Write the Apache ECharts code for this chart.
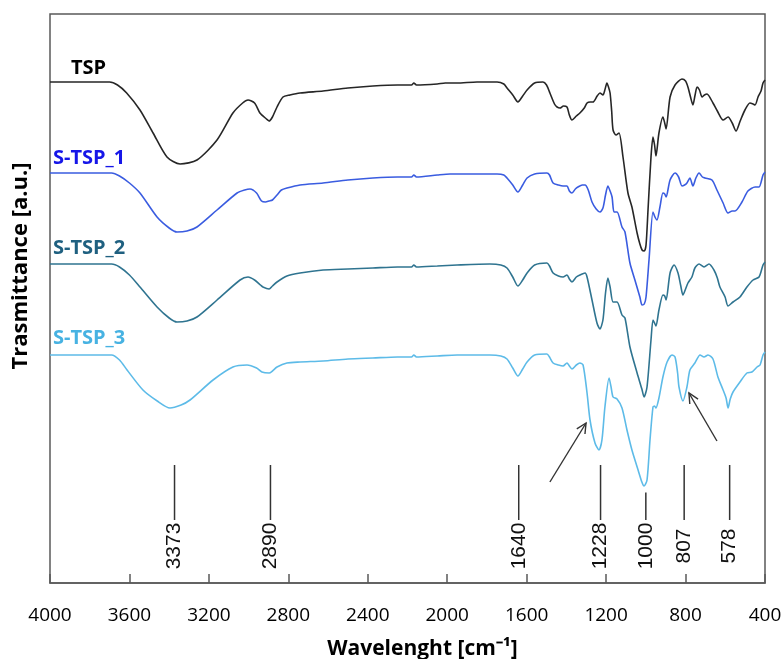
<!DOCTYPE html>
<html>
<head>
<meta charset="utf-8">
<script src="https://cdn.jsdelivr.net/npm/echarts@6/dist/echarts.min.js"></script>
<style>
  html, body { margin: 0; padding: 0; background: #fff; }
  #chart { width: 783px; height: 659px; }
</style>
</head>
<body>
<div id="chart"></div>
<script>
// FTIR spectra, [wavenumber cm-1, transmittance a.u. (vertically offset)]
const tsp = [[4000,50.1],[3850,50.1],[3700,50.1],[3660,49.8],[3614,49.0],[3547,47.3],[3481,45.0],[3411,42.6],[3345,41.9],[3260,42.3],[3159,44.3],[3079,47.0],[3030,48.0],[3003,48.3],[2970,48.0],[2943,47.0],[2910,46.4],[2897,46.2],[2880,46.6],[2857,47.6],[2827,48.6],[2792,48.8],[2741,49.0],[2625,49.2],[2500,49.5],[2374,49.7],[2250,49.8],[2180,49.8],[2168,50.0],[2155,49.8],[2050,49.9],[2010,50.0],[1951,50.0],[1850,50.1],[1749,50.1],[1715,49.9],[1699,49.5],[1670,48.8],[1644,48.1],[1620,48.7],[1598,49.3],[1560,50.0],[1518,50.1],[1500,49.8],[1483,49.0],[1460,47.9],[1447,47.6],[1432,47.5],[1415,47.7],[1397,47.6],[1385,46.8],[1372,46.3],[1350,46.7],[1332,47.0],[1310,47.5],[1296,48.0],[1280,48.1],[1266,48.1],[1245,48.7],[1231,49.0],[1216,48.8],[1205,49.4],[1196,50.0],[1188,49.6],[1180,49.0],[1172,47.2],[1165,45.3],[1150,44.8],[1135,45.0],[1115,42.6],[1090,39.0],[1070,37.6],[1044,35.0],[1030,33.9],[1019,33.3],[1008,33.2],[999,33.8],[989,37.3],[974,42.6],[964,44.6],[956,43.8],[949,42.7],[934,45.0],[914,46.6],[905,46.0],[898,45.4],[878,48.6],[853,49.8],[818,50.4],[800,50.2],[788,49.6],[775,48.6],[763,47.8],[752,48.8],[742,49.6],[730,49.3],[717,48.6],[705,48.8],[692,48.9],[662,48.0],[640,47.2],[611,46.3],[586,46.6],[565,46.0],[546,45.2],[525,46.2],[501,47.3],[476,48.0],[460,47.9],[450,47.8],[435,48.6],[420,49.2],[410,50.0],[400,50.3]];

const stsp1 = [[4000,41.0],[3850,41.0],[3690,41.0],[3650,40.7],[3600,40.0],[3547,39.0],[3461,36.6],[3400,35.5],[3361,35.1],[3310,35.2],[3260,35.6],[3159,37.3],[3058,39.0],[3020,39.3],[2993,39.4],[2960,39.0],[2935,38.2],[2915,38.1],[2897,38.2],[2880,38.3],[2857,38.8],[2835,39.3],[2807,39.5],[2741,39.8],[2625,40.0],[2500,40.3],[2374,40.5],[2250,40.6],[2180,40.6],[2168,40.8],[2155,40.6],[2050,40.8],[1986,40.9],[1850,40.9],[1749,40.9],[1715,40.8],[1699,40.5],[1670,39.8],[1644,39.1],[1620,39.8],[1598,40.5],[1560,40.9],[1498,41.0],[1485,40.8],[1467,40.0],[1440,39.8],[1417,39.7],[1397,39.7],[1385,39.2],[1372,39.0],[1355,39.4],[1342,39.6],[1320,39.8],[1306,39.8],[1290,39.3],[1271,38.1],[1250,37.4],[1231,37.1],[1216,37.5],[1203,38.8],[1191,39.7],[1180,39.2],[1170,38.6],[1160,37.1],[1145,37.1],[1120,35.6],[1105,35.1],[1080,32.0],[1055,30.3],[1030,28.6],[1019,27.8],[1008,27.9],[999,28.6],[984,32.3],[964,37.1],[954,36.6],[944,36.3],[929,37.6],[914,39.0],[905,38.9],[898,38.6],[878,40.3],[853,41.0],[835,40.6],[818,39.7],[805,39.8],[793,40.0],[778,40.5],[763,39.7],[748,40.5],[732,41.0],[715,40.6],[702,40.5],[667,40.3],[642,39.3],[611,38.0],[586,37.0],[565,37.2],[551,37.2],[516,38.1],[486,39.2],[450,39.6],[430,39.6],[410,40.8],[400,41.1]];

const stsp2 = [[4000,31.9],[3850,31.9],[3690,31.9],[3650,31.6],[3600,30.8],[3547,29.6],[3461,27.6],[3400,26.5],[3361,26.1],[3310,26.2],[3260,26.6],[3159,28.3],[3043,30.3],[3003,30.6],[2970,30.3],[2940,29.8],[2928,29.6],[2897,29.4],[2880,29.7],[2857,30.1],[2807,30.7],[2741,31.0],[2625,31.3],[2500,31.4],[2374,31.5],[2250,31.6],[2180,31.6],[2168,31.8],[2155,31.6],[2050,31.7],[1950,31.8],[1785,31.9],[1730,31.8],[1699,31.5],[1670,30.6],[1644,29.7],[1620,30.3],[1598,31.0],[1560,31.8],[1498,32.0],[1485,31.7],[1467,31.0],[1440,30.7],[1417,30.6],[1397,30.8],[1385,30.4],[1372,30.1],[1350,30.6],[1332,30.8],[1306,31.0],[1296,30.6],[1271,28.3],[1246,26.0],[1231,25.4],[1216,26.3],[1203,29.0],[1191,30.5],[1180,29.6],[1165,28.1],[1145,28.1],[1120,26.8],[1105,26.5],[1080,23.6],[1044,21.0],[1020,19.4],[1009,18.6],[994,19.6],[974,24.3],[964,26.3],[956,26.0],[949,25.7],[934,27.3],[914,28.8],[905,28.7],[898,28.3],[878,31.0],[858,31.8],[838,31.0],[825,29.8],[813,28.8],[800,29.4],[788,30.0],[768,30.6],[753,31.5],[732,31.9],[707,31.6],[682,31.9],[657,31.3],[640,30.5],[627,29.6],[601,28.6],[586,27.7],[561,28.1],[526,28.6],[491,29.6],[460,30.3],[430,30.6],[410,31.8],[400,32.1]];

const stsp3 = [[4000,22.8],[3850,22.8],[3690,22.8],[3650,22.3],[3612,21.3],[3532,19.3],[3460,18.2],[3396,17.5],[3340,17.8],[3295,18.3],[3179,20.3],[3079,21.6],[3008,21.8],[2960,21.5],[2933,21.1],[2897,21.0],[2880,21.2],[2857,21.6],[2807,22.0],[2741,22.1],[2625,22.2],[2500,22.4],[2374,22.5],[2250,22.6],[2180,22.6],[2168,22.8],[2155,22.6],[2050,22.7],[1950,22.8],[1785,22.8],[1730,22.7],[1699,22.4],[1670,21.5],[1644,20.7],[1620,21.4],[1598,22.1],[1560,22.8],[1498,22.9],[1485,22.6],[1467,22.0],[1440,21.8],[1417,21.7],[1397,22.0],[1385,21.7],[1372,21.4],[1350,21.8],[1332,22.0],[1316,21.8],[1296,19.0],[1281,16.3],[1256,14.0],[1236,13.3],[1221,14.3],[1206,17.6],[1185,20.5],[1175,19.6],[1165,18.6],[1145,18.4],[1120,17.5],[1095,15.3],[1070,13.3],[1039,11.3],[1020,10.1],[1009,9.7],[994,10.3],[979,14.3],[964,17.6],[956,17.7],[949,17.5],[934,18.5],[914,20.6],[893,22.1],[868,22.8],[853,22.6],[840,21.0],[833,19.6],[813,18.2],[793,19.6],[778,21.3],[753,22.0],[727,22.8],[707,22.6],[687,22.8],[662,22.4],[637,20.6],[611,19.3],[596,18.5],[586,17.5],[575,18.4],[561,19.1],[526,20.1],[491,21.0],[466,21.1],[440,21.6],[425,21.8],[410,22.8],[400,23.1]];

// Band positions marked under the spectra (cm-1)
const bandPeaks = [3373, 2890, 1640, 1228, 1000, 807, 578];

// Arrows: [from wavenumber, from value, to wavenumber, to value]
const arrows = [[1483, 10.1, 1301, 16.0], [642, 14.2, 783, 19.0]];

const xTicks = [4000, 3600, 3200, 2800, 2400, 2000, 1600, 1200, 800, 400];

const seriesNames = ['TSP', 'S-TSP_1', 'S-TSP_2', 'S-TSP_3'];

const lineColors = ['#262626', '#3a5ce0', '#2f7490', '#5dbbe8'];
const nameColors = ['#000000', '#1616e8', '#1f6080', '#47b2e2'];

// Linear interpolation on a spectrum sorted by decreasing wavenumber
function valueAt(spec, wn) {
  for (let i = 0; i < spec.length - 1; i++) {
    const a = spec[i], b = spec[i + 1];
    if (wn <= a[0] && wn >= b[0]) {
      const t = (a[0] - wn) / (a[0] - b[0]);
      return a[1] + t * (b[1] - a[1]);
    }
  }
  return spec[spec.length - 1][1];
}

const LINE_TOP = 11.8, LINE_BOTTOM = 6.3, LABEL_CENTER = 3.7;

const chart = echarts.init(document.getElementById('chart'), null, { renderer: 'canvas' });

const spectra = [tsp, stsp1, stsp2, stsp3];

const option = {
  animation: false,
  backgroundColor: '#ffffff',
  grid: {
    left: 50, right: 18, top: 14, bottom: 76,
    outerBoundsMode: 'none', containLabel: false,
    show: true, borderColor: '#595959', borderWidth: 1.5
  },
  xAxis: {
    type: 'value', min: 400, max: 4000, interval: 400, inverse: true,
    name: 'Wavelenght [cm\u207B\u00B9]',
    nameLocation: 'middle', nameGap: 56,
    nameTextStyle: { fontFamily: 'Open Sans', fontWeight: 'bold', fontSize: 21, color: '#000', padding: [0, 0, 0, 30] },
    axisLine: { show: true, lineStyle: { color: '#595959', width: 1.5 } },
    axisTick: { show: true, inside: true, length: 9, lineStyle: { color: '#595959', width: 1.5 } },
    axisLabel: {
      fontFamily: 'Open Sans', fontSize: 19, color: '#000', margin: 23,
      showMinLabel: true, showMaxLabel: true,
      formatter: v => (xTicks.indexOf(v) >= 0 ? String(v) : '')
    },
    splitLine: { show: false }
  },
  yAxis: {
    type: 'value', min: 0, max: 56.9,
    axisLine: { show: false }, axisTick: { show: false },
    axisLabel: { show: false }, splitLine: { show: false }
  },
  graphic: [
    { type: 'text', left: 71, top: 58, style: { text: 'TSP', fill: nameColors[0], font: 'bold 20px "Open Sans"' } },
    { type: 'text', left: 53, top: 148, style: { text: 'S-TSP_1', fill: nameColors[1], font: 'bold 20px "Open Sans"' } },
    { type: 'text', left: 53, top: 238, style: { text: 'S-TSP_2', fill: nameColors[2], font: 'bold 20px "Open Sans"' } },
    { type: 'text', left: 53, top: 328, style: { text: 'S-TSP_3', fill: nameColors[3], font: 'bold 20px "Open Sans"' } },
    {
      type: 'text', x: 21, y: 266, rotation: Math.PI / 2,
      style: { text: 'Trasmittance [a.u.]', fill: '#000', font: 'bold 22px "Open Sans"', align: 'center', verticalAlign: 'middle' }
    }
  ],
  series: [
    ...spectra.map((spec, i) => ({
      name: seriesNames[i],
      type: 'line',
      data: spec,
      showSymbol: false,
      smooth: 0.25,
      lineStyle: { color: lineColors[i], width: 1.6 },
      z: 3
    })),
    {
      name: 'bands',
      type: 'custom',
      data: bandPeaks.map(wn => [wn, Math.min(LINE_TOP, valueAt(stsp3, wn) - 1.0), LINE_BOTTOM, LABEL_CENTER]),
      renderItem: (params, api) => {
        const wn = api.value(0);
        const top = api.coord([wn, api.value(1)]);
        const bot = api.coord([wn, api.value(2)]);
        const lab = api.coord([wn, api.value(3)]);
        return {
          type: 'group',
          children: [
            { type: 'line', shape: { x1: top[0], y1: top[1], x2: bot[0], y2: bot[1] },
              style: { stroke: '#333', lineWidth: 1.5 } },
            { type: 'text', x: lab[0], y: lab[1], rotation: Math.PI / 2,
              style: { text: String(wn), fill: '#111', font: '21px "Liberation Sans"', align: 'center', verticalAlign: 'middle' } }
          ]
        };
      },
      z: 2
    },
    {
      name: 'arrows',
      type: 'custom',
      data: arrows,
      renderItem: (params, api) => {
        const p0 = api.coord([api.value(0), api.value(1)]);
        const p1 = api.coord([api.value(2), api.value(3)]);
        const ang = Math.atan2(p1[1] - p0[1], p1[0] - p0[0]);
        const L = 11, spread = 0.45;
        const h1 = [p1[0] - L * Math.cos(ang - spread), p1[1] - L * Math.sin(ang - spread)];
        const h2 = [p1[0] - L * Math.cos(ang + spread), p1[1] - L * Math.sin(ang + spread)];
        return {
          type: 'group',
          children: [
            { type: 'line', shape: { x1: p0[0], y1: p0[1], x2: p1[0], y2: p1[1] },
              style: { stroke: '#333', lineWidth: 1.4 } },
            { type: 'polyline', shape: { points: [h1, p1, h2] },
              style: { stroke: '#333', lineWidth: 1.4, fill: null } }
          ]
        };
      },
      z: 4
    }
  ]
};

chart.setOption(option);
</script>
</body>
</html>
